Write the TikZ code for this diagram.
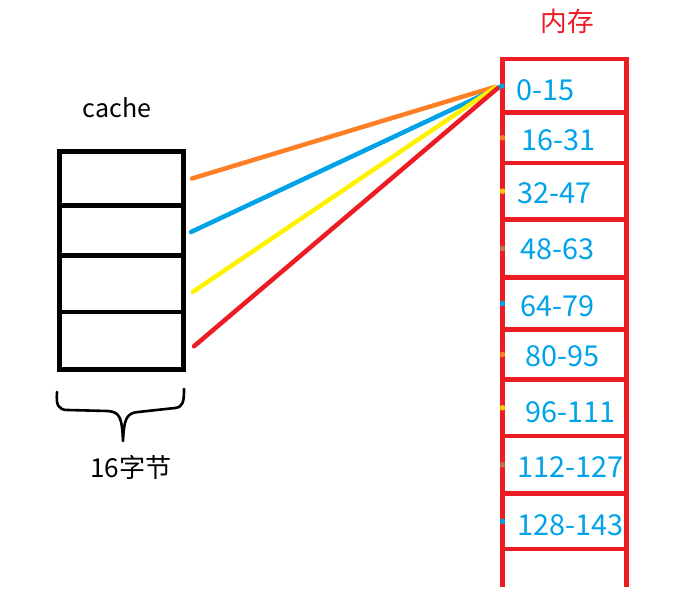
\documentclass[tikz,border=0pt]{standalone}
\usepackage{fontspec}
\setmainfont{Noto Sans CJK SC}
\usepackage{xcolor}
\usepackage{tikz}
\usetikzlibrary{positioning}

\definecolor{memred}{HTML}{ED1C24}
\definecolor{numblue}{HTML}{00A2E8}
\definecolor{lnorange}{HTML}{FF7F27}
\definecolor{lnyellow}{HTML}{FFF200}
\definecolor{dotyellow}{HTML}{FFC90E}
\definecolor{dotbrown}{HTML}{B97A57}
\def\px{0.025cm}

\begin{document}
\begin{tikzpicture}[
			x=0.025cm, y=-0.025cm,
			node distance=0pt,
			cachecell/.style={rectangle, draw=black, line width=4.5*\px, inner sep=0pt, outer sep=0pt, minimum width=124*\px},
			memcell/.style={rectangle, draw=memred, line width=4.5*\px, inner sep=0pt, outer sep=0pt, minimum width=124*\px},
			memtext/.style={inner sep=0pt, anchor=west, text=numblue, font=\fontsize{20.5pt}{22pt}\selectfont},
			link/.style={line width=4.5*\px, line cap=round},
			memdot/.style={radius=2.8*\px}
		]
		\useasboundingbox (0,0) rectangle (678,608);

		% cache
		\node (cachename) at (117,108) {\fontsize{17.8pt}{20pt}\selectfont cache};
		\node (c1) [cachecell, minimum height=54*\px, anchor=north west] at (59.5,151.5) {};
		\node (c2) [cachecell, minimum height=50*\px, below=of c1] {};
		\node (c3) [cachecell, minimum height=56.5*\px, below=of c2] {};
		\node (c4) [cachecell, minimum height=57.5*\px, below=of c3] {};

		% brace
		\draw[line width=2.6*\px, line cap=round, line join=round] (57,392) .. controls (56,405) and (58,410) .. (68,410) -- (108,411) .. controls (120,412) and (122,418) .. (123,441) .. controls (124,420) and (126,413) .. (138,412) -- (175,408) .. controls (183,407) and (184,402) .. (184,389);
		\node (size) at (131,467) {\fontsize{18.6pt}{20pt}\selectfont 16字节};

		% memory
		\node (memname) at (567,21) {\color{memred}\fontsize{19pt}{20pt}\selectfont 内存};
		\node (m0) [memcell, minimum height=53.5*\px, anchor=north west] at (502.5,59) {};
		\node (m1) [memcell, minimum height=50.5*\px, below=of m0] {};
		\node (m2) [memcell, minimum height=56.5*\px, below=of m1] {};
		\node (m3) [memcell, minimum height=58*\px, below=of m2] {};
		\node (m4) [memcell, minimum height=52*\px, below=of m3] {};
		\node (m5) [memcell, minimum height=50*\px, below=of m4] {};
		\node (m6) [memcell, minimum height=56.5*\px, below=of m5] {};
		\node (m7) [memcell, minimum height=57.5*\px, below=of m6] {};
		\node (m8) [memcell, minimum height=55.5*\px, below=of m7] {};
		\draw[memred, line width=4.5*\px] (m8.south west) -- ++(0,38);
		\draw[memred, line width=4.5*\px] (m8.south east) -- ++(0,38);

		% address ranges
		\node (a0) [memtext, right=14*\px of m0.west, yshift=-4*\px] {0-15};
		\node (a1) [memtext, right=19*\px of m1.west, yshift=-2*\px] {16-31};
		\node (a2) [memtext, right=15*\px of m2.west, yshift=-2*\px] {32-47};
		\node (a3) [memtext, right=18*\px of m3.west, yshift=-1*\px] {48-63};
		\node (a4) [memtext, right=18*\px of m4.west, yshift=-3*\px] {64-79};
		\node (a5) [memtext, right=23*\px of m5.west, yshift=-2*\px] {80-95};
		\node (a6) [memtext, right=23*\px of m6.west, yshift=-4*\px] {96-111};
		\node (a7) [memtext, right=15*\px of m7.west, yshift=-2*\px] {112-127};
		\node (a8) [memtext, right=15*\px of m8.west, yshift=-4*\px] {128-143};

		% dots on the left edge
		\fill[lnorange] (m1.west) circle [memdot];
		\fill[dotyellow] (m2.west) circle [memdot];
		\fill[dotbrown] (m3.west) circle [memdot];
		\fill[numblue] (m4.west) circle [memdot];
		\fill[lnorange] (m5.west) circle [memdot];
		\fill[dotyellow] (m6.west) circle [memdot];
		\fill[dotbrown] (m7.west) circle [memdot];
		\fill[numblue] (m8.west) circle [memdot];

		% links cache -> memory
		\draw[link, lnorange] ([xshift=8.5*\px]c1.east) -- ([xshift=-7*\px, yshift=-1*\px]m0.west);
		\draw[link, numblue] ([xshift=7.5*\px, yshift=-1.5*\px]c2.east) -- (m0.west);
		\draw[link, lnyellow] ([xshift=9.5*\px, yshift=-8*\px]c3.east) -- ([xshift=-7*\px, yshift=-1.5*\px]m0.west);
		\draw[link, memred] ([xshift=10.5*\px, yshift=-5.5*\px]c4.east) -- ([xshift=-5*\px, yshift=-2.5*\px]m0.west);
	\end{tikzpicture}
\end{document}
